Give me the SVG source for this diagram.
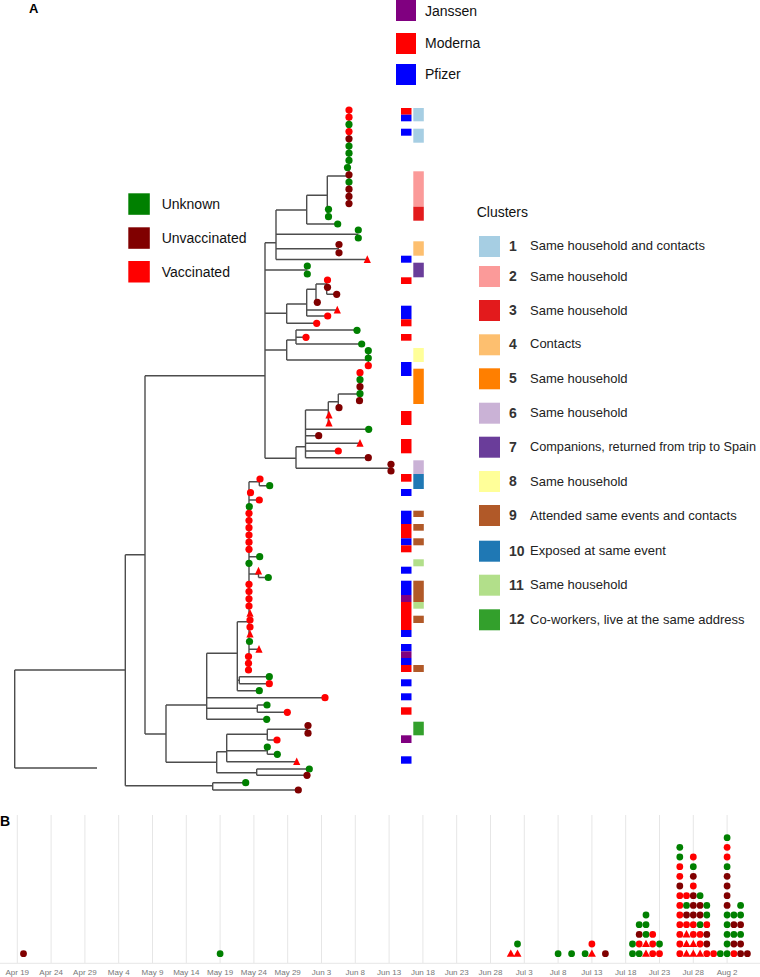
<svg xmlns="http://www.w3.org/2000/svg" xmlns:xlink="http://www.w3.org/1999/xlink" width="760" height="977" viewBox="0 0 760 977">
<style>
text{font-family:"Liberation Sans",Arial,sans-serif}
.g{fill:#008000}.d{fill:#800000}.r{fill:#ff0000}.b{fill:#0000ff}.p{fill:#800080}
.e{stroke:#4d4d4d;stroke-width:1.4;fill:none}
.lt{font-size:14px;fill:#111}
.cn{font-size:14px;font-weight:bold;fill:#333}
.ct{font-size:13px;fill:#222}
.ax{font-size:8px;fill:#777;text-anchor:middle}
.grid{stroke:#e6e6e6;stroke-width:1}
</style>
<defs>
<path id="t" d="M0,-4.2 L3.6,3.4 L-3.6,3.4 Z" fill="#ff0000"/>
<path id="tb" d="M0,-4.3 L4,3.1 L-4,3.1 Z" fill="#ff0000"/>
</defs>
<text x="29" y="13" font-size="13" font-weight="bold">A</text>
<g id="vaccine-legend">
<rect x="396" y="0" width="20" height="21" class="p"/><text x="425" y="16" class="lt">Janssen</text>
<rect x="396" y="33" width="20" height="21" class="r"/><text x="425" y="48" class="lt">Moderna</text>
<rect x="396" y="64" width="20" height="21" class="b"/><text x="425" y="79" class="lt">Pfizer</text>
</g>
<g id="status-legend">
<rect x="128.3" y="193.3" width="21.5" height="21.5" class="g"/><text x="161.7" y="209.3" class="lt">Unknown</text>
<rect x="128.3" y="227.3" width="21.5" height="21.5" class="d"/><text x="161.7" y="243.3" class="lt">Unvaccinated</text>
<rect x="128.3" y="261" width="21.5" height="21.5" class="r"/><text x="161.7" y="276.5" class="lt">Vaccinated</text>
</g>
<g id="cluster-legend">
<text x="476.7" y="216.7" class="lt">Clusters</text>
<rect x="479" y="236" width="21" height="21" fill="#A6CEE3"/><text x="509" y="250.5" class="cn">1</text><text x="530" y="250" class="ct">Same household and contacts</text>
<rect x="479" y="266" width="21" height="21" fill="#FB9A99"/><text x="509" y="281" class="cn">2</text><text x="530" y="280.5" class="ct">Same household</text>
<rect x="479" y="300" width="21" height="21" fill="#E31A1C"/><text x="509" y="315" class="cn">3</text><text x="530" y="314.5" class="ct">Same household</text>
<rect x="479" y="334.3" width="21" height="21" fill="#FDBF6F"/><text x="509" y="349.3" class="cn">4</text><text x="530" y="348" class="ct">Contacts</text>
<rect x="479" y="368.3" width="21" height="21" fill="#FF7F00"/><text x="509" y="383.3" class="cn">5</text><text x="530" y="382.8" class="ct">Same household</text>
<rect x="479" y="402.7" width="21" height="21" fill="#CAB2D6"/><text x="509" y="417.7" class="cn">6</text><text x="530" y="417.2" class="ct">Same household</text>
<rect x="479" y="436.7" width="21" height="21" fill="#6A3D9A"/><text x="509" y="451.7" class="cn">7</text><text x="530" y="451.2" class="ct" textLength="226" lengthAdjust="spacingAndGlyphs">Companions, returned from trip to Spain</text>
<rect x="479" y="471" width="21" height="21" fill="#FFFF99"/><text x="509" y="486" class="cn">8</text><text x="530" y="485.5" class="ct">Same household</text>
<rect x="479" y="505" width="21" height="21" fill="#B15928"/><text x="509" y="520" class="cn">9</text><text x="530" y="519.5" class="ct">Attended same events and contacts</text>
<rect x="479" y="540.7" width="21" height="21" fill="#1F78B4"/><text x="509" y="555.7" class="cn">10</text><text x="530" y="555.2" class="ct">Exposed at same event</text>
<rect x="479" y="574.7" width="21" height="21" fill="#B2DF8A"/><text x="509" y="589.7" class="cn">11</text><text x="530" y="589.2" class="ct">Same household</text>
<rect x="479" y="609.3" width="21" height="21" fill="#33A02C"/><text x="509" y="624.3" class="cn">12</text><text x="530" y="623.8" class="ct">Co-workers, live at the same address</text>
</g>
<g id="connectors">
<path class="e" d="M14.7 670V768M14.7 670H125.3M14.7 768H97M125.3 554.7V785.7M125.3 785.7H212.7M212.7 782.7V790M212.7 782.7H245.7M212.7 790H298.3M125.3 554.7H145M145 375.7V734M145 375.7H265M145 734H166M166 705V762.3
M265 242.7V458.3M265 242.7H276M276 210V259.5M276 210H306.7M306.7 195.3V224M306.7 195.3H327.3M327.3 176V213M327.3 176H349M349 110V203.6M327.3 213H328.5M306.7 224H337.7M276 234.3H358.3M276 248.7H339M276 259.5H367.3M265 270H307.3
M265 313.3H286.7M286.7 304V323.3M286.7 304H306.7M306.7 289.3V316M306.7 289.3H316M316 284V302.3M316 284H326.7M326.7 280V294.3M326.7 294.3H336.7M306.7 310H337.3M306.7 316H327.7M286.7 323.3H316.7
M265 350H286.7M286.7 340V360M286.7 340H296M296 330V344M296 330H357M296 337.3H306M296 344H361.7M286.7 360H368.3M368.3 350.7V365.7
M265 458.3H296M296 446.7V468.3M296 446.7H305.5M305.5 410V457.7M305.5 410H328.3M328.3 401.7V423.3M328.3 401.7H338.3M338.3 394V407.7M338.3 394H360M360 372.7V400.7M305.5 429.3H368.7M305.5 435.7H318.7M305.5 443.3H360M305.5 451H338.3M305.5 457.7H368.3M296 468.3H391
M166 705H206.7M206.7 653.3V719.3M206.7 653.3H237.3M237.3 621.7V690.7M237.3 621.7H249M249 481.7V670M249 481.7H259.3M259.3 479V485.7M259.3 485.7H269.7M249 500H259.3M249 556.7H259.7M249 574H258.5M258.5 571V577.5M258.5 577.5H268.3M249 649.3H259M237.3 680.2H239.3M239.3 676.7V683.7M239.3 676.7H269.3M239.3 683.7H269.3M237.3 690.7H259.3M206.7 697.7H325M206.7 708.3H257.3M257.3 705V712.3M257.3 705H267M257.3 712.3H287.3M206.7 719.3H266.7
M166 762.3H216.7M216.7 751.7V772.7M216.7 751.7H226.7M226.7 734.3V761.7M226.7 734.3H267.3M267.3 729.3V740M267.3 729.3H308M267.3 740H277M226.7 750.7H267.3M267.3 747V754.3M267.3 754.3H277.3M226.7 761.7H296.7M216.7 772.7H256.7M256.7 769V775.3M256.7 769H309.3M256.7 775.3H307"/>
</g>
<g id="tips">
<circle cx="349" cy="110" r="3.6" class="r"/><circle cx="349" cy="117.2" r="3.6" class="r"/><circle cx="349" cy="124.4" r="3.6" class="g"/><circle cx="349" cy="131.6" r="3.6" class="r"/><circle cx="349" cy="138.8" r="3.6" class="d"/><circle cx="349" cy="146" r="3.6" class="g"/><circle cx="349" cy="153.2" r="3.6" class="g"/><circle cx="349" cy="160.4" r="3.6" class="g"/><circle cx="347.5" cy="167.6" r="3.6" class="g"/><circle cx="349" cy="174.8" r="3.6" class="d"/><circle cx="349" cy="182" r="3.6" class="g"/><circle cx="349" cy="189.2" r="3.6" class="d"/><circle cx="349" cy="196.4" r="3.6" class="d"/><circle cx="349" cy="203.6" r="3.6" class="d"/>
<circle cx="328.5" cy="209.3" r="3.6" class="g"/><circle cx="328.5" cy="216.7" r="3.6" class="g"/>
<circle cx="337.7" cy="224" r="3.6" class="g"/>
<circle cx="358.3" cy="230" r="3.6" class="g"/><circle cx="358.3" cy="238" r="3.6" class="g"/>
<circle cx="339" cy="244.5" r="3.6" class="d"/><circle cx="339" cy="252.8" r="3.6" class="d"/>
<use xlink:href="#t" x="367.3" y="259.5"/>
<circle cx="307.3" cy="266" r="3.6" class="g"/><circle cx="307.3" cy="274" r="3.6" class="g"/>
<circle cx="327.5" cy="280" r="3.6" class="r"/><circle cx="327.5" cy="287.3" r="3.6" class="d"/><circle cx="336.7" cy="294.3" r="3.6" class="d"/><circle cx="317.3" cy="302.3" r="3.6" class="d"/>
<use xlink:href="#t" x="337.3" y="310"/>
<circle cx="327.7" cy="316" r="3.6" class="r"/>
<circle cx="316.7" cy="323.3" r="3.6" class="r"/>
<circle cx="357" cy="330.3" r="3.6" class="g"/><circle cx="306" cy="337.3" r="3.6" class="r"/><circle cx="361.7" cy="344" r="3.6" class="g"/>
<circle cx="368.3" cy="350.7" r="3.6" class="g"/><circle cx="368.3" cy="358" r="3.6" class="g"/><circle cx="368.3" cy="365.7" r="3.6" class="r"/>
<circle cx="360" cy="372.7" r="3.6" class="r"/><circle cx="360" cy="379.7" r="3.6" class="g"/><circle cx="360" cy="386.7" r="3.6" class="d"/><circle cx="360" cy="393.7" r="3.6" class="g"/><circle cx="359.5" cy="400.7" r="3.6" class="d"/>
<circle cx="339" cy="407.7" r="3.6" class="d"/>
<use xlink:href="#t" x="329" y="415"/><use xlink:href="#t" x="329" y="423"/>
<circle cx="368.7" cy="429.3" r="3.6" class="g"/>
<circle cx="318.7" cy="435.7" r="3.6" class="d"/>
<use xlink:href="#t" x="360" y="443.3"/>
<circle cx="338.3" cy="451" r="3.6" class="r"/>
<circle cx="368.3" cy="457.7" r="3.6" class="d"/>
<circle cx="391" cy="464.3" r="3.6" class="d"/><circle cx="391" cy="471" r="3.6" class="d"/>
<circle cx="260" cy="479" r="3.6" class="r"/><circle cx="269.7" cy="485.7" r="3.6" class="g"/><circle cx="250.5" cy="492.7" r="3.6" class="r"/><circle cx="259.3" cy="500" r="3.6" class="r"/><circle cx="249.3" cy="506.7" r="3.6" class="g"/>
<circle cx="249" cy="513.3" r="3.6" class="r"/><circle cx="249" cy="520.5" r="3.6" class="r"/><circle cx="249" cy="527.7" r="3.6" class="r"/><circle cx="249" cy="535" r="3.6" class="r"/><circle cx="249" cy="542.2" r="3.6" class="r"/><circle cx="249" cy="549.3" r="3.6" class="r"/>
<circle cx="259.7" cy="556.7" r="3.6" class="g"/><circle cx="249" cy="563.3" r="3.6" class="g"/>
<use xlink:href="#t" x="258.5" y="571"/><circle cx="268.3" cy="577.5" r="3.6" class="g"/>
<circle cx="249" cy="584.3" r="3.6" class="r"/><circle cx="249" cy="591.5" r="3.6" class="r"/><circle cx="249" cy="598.8" r="3.6" class="r"/><circle cx="249" cy="606" r="3.6" class="r"/>
<use xlink:href="#t" x="250" y="613.3"/><circle cx="250" cy="620" r="3.6" class="r"/><circle cx="250" cy="627" r="3.6" class="r"/><use xlink:href="#t" x="250" y="634"/>
<circle cx="249.5" cy="641.5" r="3.6" class="g"/><use xlink:href="#t" x="259" y="649.3"/>
<circle cx="248.5" cy="656.5" r="3.6" class="r"/><circle cx="248.5" cy="663.3" r="3.6" class="r"/><circle cx="248.5" cy="670" r="3.6" class="r"/>
<circle cx="269.3" cy="676.7" r="3.6" class="g"/><circle cx="269.3" cy="683.7" r="3.6" class="r"/><circle cx="259.3" cy="690.7" r="3.6" class="g"/>
<circle cx="325" cy="697.7" r="3.6" class="r"/>
<circle cx="267" cy="705" r="3.6" class="g"/><circle cx="287.3" cy="712.3" r="3.6" class="r"/><circle cx="266.7" cy="719.3" r="3.6" class="g"/>
<circle cx="308" cy="725.5" r="3.6" class="d"/><circle cx="308" cy="733.2" r="3.6" class="d"/>
<circle cx="277" cy="740" r="3.6" class="r"/>
<circle cx="267.3" cy="747" r="3.6" class="g"/><circle cx="277.3" cy="754.3" r="3.6" class="g"/>
<use xlink:href="#t" x="296.7" y="761.7"/>
<circle cx="309.3" cy="769" r="3.6" class="g"/><circle cx="307" cy="775.3" r="3.6" class="d"/>
<circle cx="245.7" cy="782.7" r="3.6" class="g"/><circle cx="298.3" cy="790" r="3.6" class="d"/>
</g>
<g id="vaccine-bars">
<rect x="401" y="108" width="10.5" height="6.7" class="r"/><rect x="401" y="114.7" width="10.5" height="6.6" class="b"/>
<rect x="401" y="128.7" width="10.5" height="7" class="b"/>
<rect x="401" y="255.7" width="10.5" height="7" class="b"/>
<rect x="401" y="277.3" width="10.5" height="6.7" class="r"/>
<rect x="401" y="305.7" width="10.5" height="13.6" class="b"/><rect x="401" y="319.3" width="10.5" height="7" class="r"/>
<rect x="401" y="334" width="10.5" height="6.7" class="r"/>
<rect x="401" y="362" width="10.5" height="14" class="b"/>
<rect x="401" y="411" width="10.5" height="14" class="r"/>
<rect x="401" y="439" width="10.5" height="14.3" class="r"/>
<rect x="401" y="474" width="10.5" height="7.7" class="r"/>
<rect x="401" y="489" width="10.5" height="7" class="b"/>
<rect x="401" y="510.7" width="10.5" height="13.3" class="b"/><rect x="401" y="524" width="10.5" height="14.3" class="r"/><rect x="401" y="538.3" width="10.5" height="7" class="b"/><rect x="401" y="545.3" width="10.5" height="7" class="r"/>
<rect x="401" y="566.7" width="10.5" height="7" class="b"/>
<rect x="401" y="580.7" width="10.5" height="14.3" class="b"/><rect x="401" y="595" width="10.5" height="7" class="p"/><rect x="401" y="602" width="10.5" height="28" class="r"/><rect x="401" y="630" width="10.5" height="7" class="b"/>
<rect x="401" y="644" width="10.5" height="7.3" class="b"/><rect x="401" y="651.3" width="10.5" height="6.7" class="p"/><rect x="401" y="658" width="10.5" height="7" class="b"/><rect x="401" y="665" width="10.5" height="7" class="r"/>
<rect x="401" y="679.3" width="10.5" height="7" class="b"/>
<rect x="401" y="693.3" width="10.5" height="7" class="b"/>
<rect x="401" y="707.3" width="10.5" height="7.4" class="r"/>
<rect x="401" y="735.3" width="10.5" height="7.7" class="p"/>
<rect x="401" y="756.3" width="10.5" height="7.4" class="b"/>
</g>
<g id="cluster-bars">
<rect x="413.3" y="108" width="10.5" height="13.3" fill="#A6CEE3"/><rect x="413.3" y="128.7" width="10.5" height="14" fill="#A6CEE3"/>
<rect x="413.3" y="171.3" width="10.5" height="35.4" fill="#FB9A99"/><rect x="413.3" y="206.7" width="10.5" height="14" fill="#E31A1C"/>
<rect x="413.3" y="241.3" width="10.5" height="14.4" fill="#FDBF6F"/><rect x="413.3" y="262.7" width="10.5" height="14.6" fill="#6A3D9A"/>
<rect x="413.3" y="348" width="10.5" height="14" fill="#FFFF99"/><rect x="413.3" y="368.7" width="10.5" height="35.3" fill="#FF7F00"/>
<rect x="413.3" y="460.3" width="10.5" height="13.7" fill="#CAB2D6"/><rect x="413.3" y="474" width="10.5" height="15" fill="#1F78B4"/>
<rect x="413.3" y="510.7" width="10.5" height="6.3" fill="#B15928"/><rect x="413.3" y="524" width="10.5" height="6.7" fill="#B15928"/><rect x="413.3" y="538.3" width="10.5" height="7" fill="#B15928"/>
<rect x="413.3" y="559.3" width="10.5" height="7" fill="#B2DF8A"/>
<rect x="413.3" y="580.7" width="10.5" height="21.3" fill="#B15928"/><rect x="413.3" y="602" width="10.5" height="6.7" fill="#B2DF8A"/>
<rect x="413.3" y="615.7" width="10.5" height="7.3" fill="#B15928"/><rect x="413.3" y="665" width="10.5" height="7" fill="#B15928"/>
<rect x="413.3" y="721.7" width="10.5" height="13.6" fill="#33A02C"/>
</g>
<g id="panel-b">
<text x="0" y="826" font-size="14" font-weight="bold">B</text>
<g class="grid">
<path d="M17.3 815V963M51.1 815V963M84.9 815V963M118.7 815V963M152.5 815V963M186.3 815V963M220.1 815V963M253.9 815V963M287.7 815V963M321.5 815V963M355.3 815V963M389.1 815V963M422.9 815V963M456.7 815V963M490.5 815V963M524.3 815V963M558.1 815V963M591.9 815V963M625.7 815V963M659.5 815V963M693.3 815V963M727.1 815V963M0 963.3H760"/>
</g>
<text x="17.3" y="975" class="ax">Apr 19</text><text x="51.1" y="975" class="ax">Apr 24</text><text x="84.9" y="975" class="ax">Apr 29</text><text x="118.7" y="975" class="ax">May 4</text><text x="152.5" y="975" class="ax">May 9</text><text x="186.3" y="975" class="ax">May 14</text><text x="220.1" y="975" class="ax">May 19</text><text x="253.9" y="975" class="ax">May 24</text><text x="287.7" y="975" class="ax">May 29</text><text x="321.5" y="975" class="ax">Jun 3</text><text x="355.3" y="975" class="ax">Jun 8</text><text x="389.1" y="975" class="ax">Jun 13</text><text x="422.9" y="975" class="ax">Jun 18</text><text x="456.7" y="975" class="ax">Jun 23</text><text x="490.5" y="975" class="ax">Jun 28</text><text x="524.3" y="975" class="ax">Jul 3</text><text x="558.1" y="975" class="ax">Jul 8</text><text x="591.9" y="975" class="ax">Jul 13</text><text x="625.7" y="975" class="ax">Jul 18</text><text x="659.5" y="975" class="ax">Jul 23</text><text x="693.3" y="975" class="ax">Jul 28</text><text x="727.1" y="975" class="ax">Aug 2</text>
<g id="dots">
<circle cx="23.5" cy="953.7" r="3.4" class="d"/>
<circle cx="220.1" cy="953.7" r="3.4" class="g"/>
<use xlink:href="#tb" x="510.8" y="953.7"/>
<use xlink:href="#tb" x="517.5" y="953.7"/><circle cx="517.5" cy="944" r="3.4" class="g"/>
<circle cx="558.1" cy="953.7" r="3.4" class="g"/>
<circle cx="571.6" cy="953.7" r="3.4" class="g"/>
<circle cx="585.1" cy="953.7" r="3.4" class="g"/>
<use xlink:href="#tb" x="591.9" y="953.7"/><circle cx="591.9" cy="944" r="3.4" class="r"/>
<circle cx="605.4" cy="953.7" r="3.4" class="d"/>
<circle cx="632.5" cy="953.7" r="3.4" class="g"/><circle cx="632.5" cy="944" r="3.4" class="g"/>
<circle cx="639.2" cy="953.7" r="3.4" class="g"/><circle cx="639.2" cy="944" r="3.4" class="r"/><circle cx="639.2" cy="934.4" r="3.4" class="d"/><circle cx="639.2" cy="924.7" r="3.4" class="g"/>
<use xlink:href="#tb" x="646" y="953.7"/><use xlink:href="#tb" x="646" y="944"/><circle cx="646" cy="934.4" r="3.4" class="g"/><circle cx="646" cy="924.7" r="3.4" class="g"/><circle cx="646" cy="915" r="3.4" class="g"/>
<circle cx="652.7" cy="953.7" r="3.4" class="r"/><circle cx="652.7" cy="944" r="3.4" class="r"/><circle cx="652.7" cy="934.4" r="3.4" class="r"/>
<circle cx="659.5" cy="953.7" r="3.4" class="r"/><circle cx="659.5" cy="944" r="3.4" class="g"/>
<circle cx="679.8" cy="953.7" r="3.4" class="r"/><circle cx="679.8" cy="944" r="3.4" class="r"/><circle cx="679.8" cy="934.4" r="3.4" class="r"/><circle cx="679.8" cy="924.7" r="3.4" class="r"/><circle cx="679.8" cy="915" r="3.4" class="r"/><circle cx="679.8" cy="905.4" r="3.4" class="r"/><circle cx="679.8" cy="895.7" r="3.4" class="r"/><circle cx="679.8" cy="886" r="3.4" class="d"/><circle cx="679.8" cy="876.3" r="3.4" class="r"/><circle cx="679.8" cy="866.7" r="3.4" class="r"/><circle cx="679.8" cy="857" r="3.4" class="g"/><circle cx="679.8" cy="847.3" r="3.4" class="g"/>
<use xlink:href="#tb" x="686.5" y="953.7"/><use xlink:href="#tb" x="686.5" y="944"/><use xlink:href="#tb" x="686.5" y="934.4"/><circle cx="686.5" cy="924.7" r="3.4" class="r"/><circle cx="686.5" cy="915" r="3.4" class="d"/><circle cx="686.5" cy="905.4" r="3.4" class="g"/><circle cx="686.5" cy="895.7" r="3.4" class="r"/>
<use xlink:href="#tb" x="693.3" y="953.7"/><use xlink:href="#tb" x="693.3" y="944"/><circle cx="693.3" cy="934.4" r="3.4" class="r"/><circle cx="693.3" cy="924.7" r="3.4" class="r"/><circle cx="693.3" cy="915" r="3.4" class="d"/><circle cx="693.3" cy="905.4" r="3.4" class="d"/><circle cx="693.3" cy="895.7" r="3.4" class="d"/><circle cx="693.3" cy="886" r="3.4" class="r"/><circle cx="693.3" cy="876.3" r="3.4" class="d"/><circle cx="693.3" cy="866.7" r="3.4" class="g"/><circle cx="693.3" cy="857" r="3.4" class="r"/>
<use xlink:href="#tb" x="700.1" y="953.7"/><circle cx="700.1" cy="944" r="3.4" class="r"/><circle cx="700.1" cy="934.4" r="3.4" class="r"/><circle cx="700.1" cy="924.7" r="3.4" class="g"/><circle cx="700.1" cy="915" r="3.4" class="d"/><circle cx="700.1" cy="905.4" r="3.4" class="d"/><circle cx="700.1" cy="895.7" r="3.4" class="g"/>
<circle cx="706.8" cy="953.7" r="3.4" class="r"/><circle cx="706.8" cy="944" r="3.4" class="d"/><circle cx="706.8" cy="934.4" r="3.4" class="d"/><circle cx="706.8" cy="924.7" r="3.4" class="r"/><circle cx="706.8" cy="915" r="3.4" class="g"/><circle cx="706.8" cy="905.4" r="3.4" class="g"/>
<circle cx="713.6" cy="953.7" r="3.4" class="r"/>
<circle cx="720.3" cy="953.7" r="3.4" class="g"/>
<circle cx="727.1" cy="953.7" r="3.4" class="g"/><circle cx="727.1" cy="944" r="3.4" class="g"/><circle cx="727.1" cy="934.4" r="3.4" class="g"/><circle cx="727.1" cy="924.7" r="3.4" class="g"/><circle cx="727.1" cy="915" r="3.4" class="g"/><circle cx="727.1" cy="905.4" r="3.4" class="d"/><circle cx="727.1" cy="895.7" r="3.4" class="d"/><circle cx="727.1" cy="886" r="3.4" class="d"/><circle cx="727.1" cy="876.3" r="3.4" class="d"/><circle cx="727.1" cy="866.7" r="3.4" class="g"/><circle cx="727.1" cy="857" r="3.4" class="r"/><circle cx="727.1" cy="847.3" r="3.4" class="r"/><circle cx="727.1" cy="837.7" r="3.4" class="g"/>
<circle cx="733.9" cy="953.7" r="3.4" class="r"/><circle cx="733.9" cy="944" r="3.4" class="d"/><circle cx="733.9" cy="934.4" r="3.4" class="g"/><circle cx="733.9" cy="924.7" r="3.4" class="d"/><circle cx="733.9" cy="915" r="3.4" class="g"/>
<circle cx="740.6" cy="953.7" r="3.4" class="d"/><circle cx="740.6" cy="944" r="3.4" class="d"/><circle cx="740.6" cy="934.4" r="3.4" class="g"/><circle cx="740.6" cy="924.7" r="3.4" class="d"/><circle cx="740.6" cy="915" r="3.4" class="g"/><circle cx="740.6" cy="905.4" r="3.4" class="g"/>
<circle cx="747.4" cy="953.7" r="3.4" class="d"/>
</g>
</g>
</svg>
